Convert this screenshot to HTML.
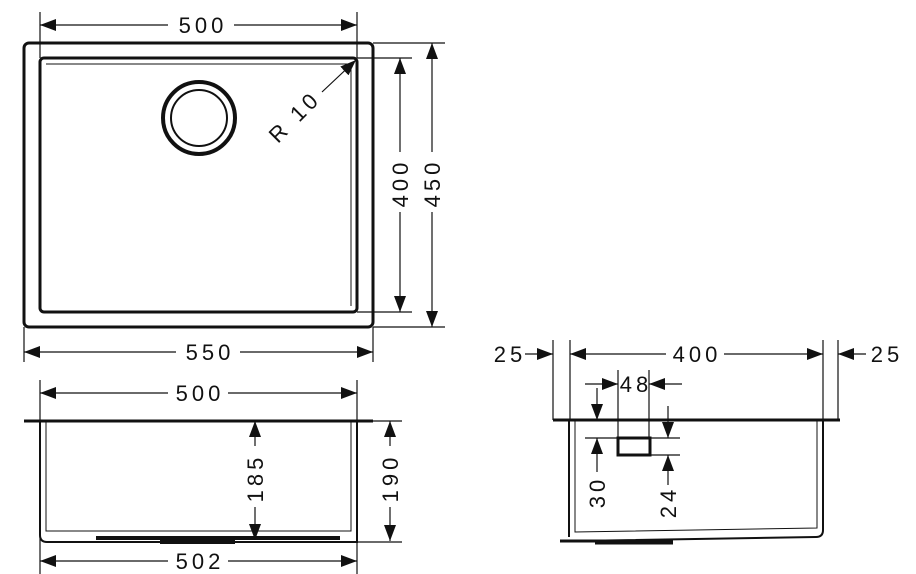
<!DOCTYPE html>
<html><head><style>body{margin:0;background:#fff}svg{display:block}text{font-family:"Liberation Sans",sans-serif;font-size:22px;fill:#111;letter-spacing:4px}</style></head><body>
<svg width="916" height="574" viewBox="0 0 916 574" xmlns="http://www.w3.org/2000/svg">
<defs>
<marker id="a" viewBox="0 0 16 12" refX="16" refY="6" markerWidth="16" markerHeight="12" markerUnits="userSpaceOnUse" orient="auto-start-reverse"><path d="M0,0L16,6L0,12z" fill="#111"/></marker>
</defs>
<g stroke="#111" fill="none">
<rect x="24" y="43" width="349" height="284" rx="5" stroke-width="3"/>
<rect x="40" y="58" width="317" height="254" rx="4" stroke-width="3"/>
<path d="M46 64H351V306" stroke-width="1"/>
<circle cx="199" cy="118" r="36" stroke-width="4"/>
<circle cx="199" cy="118" r="28" stroke-width="2"/>
<g stroke-width="1.2">
<path d="M40 12V58M357 12V58M24 327V362M373 327V362M373 43H445M357 58H412M357 312H412M373 327H445"/>
<line x1="40" y1="25" x2="168" y2="25" marker-start="url(#a)"/><line x1="234" y1="25" x2="357" y2="25" marker-end="url(#a)"/>
<line x1="24" y1="352" x2="176" y2="352" marker-start="url(#a)"/><line x1="240" y1="352" x2="373" y2="352" marker-end="url(#a)"/>
<line x1="400" y1="58" x2="400" y2="152" marker-start="url(#a)"/><line x1="400" y1="212" x2="400" y2="312" marker-end="url(#a)"/>
<line x1="432" y1="43" x2="432" y2="152" marker-start="url(#a)"/><line x1="432" y1="212" x2="432" y2="327" marker-end="url(#a)"/>
<line x1="322" y1="92" x2="356" y2="60" marker-end="url(#a)"/>
</g>
<path d="M24 421H373" stroke-width="3"/>
<path d="M40 421V535Q40 542 47 542H357V421" stroke-width="2"/>
<path d="M46 421V531H351V421" stroke-width="1"/>
<path d="M96 538H300M160 542H235M270 538H340" stroke-width="4"/>
<g stroke-width="1.2">
<path d="M40 380V574M357 380V574M373 421H402M357 542H402"/>
<line x1="40" y1="393" x2="168" y2="393" marker-start="url(#a)"/><line x1="228" y1="393" x2="357" y2="393" marker-end="url(#a)"/>
<line x1="40" y1="561" x2="168" y2="561" marker-start="url(#a)"/><line x1="228" y1="561" x2="357" y2="561" marker-end="url(#a)"/>
<line x1="255" y1="421" x2="255" y2="446" marker-start="url(#a)"/><line x1="255" y1="507" x2="255" y2="540" marker-end="url(#a)"/>
<line x1="390" y1="421" x2="390" y2="446" marker-start="url(#a)"/><line x1="390" y1="507" x2="390" y2="541" marker-end="url(#a)"/>
</g>
<path d="M553 420H840" stroke-width="3"/>
<path d="M569 420V537M823 420V530Q823 537 816 537L574 541" stroke-width="2"/>
<path d="M575 420V532L817 528V420" stroke-width="1"/>
<path d="M560 541H673M595 543H673" stroke-width="3"/>
<rect x="618" y="438" width="32" height="17" stroke-width="3"/>
<g stroke-width="1.2">
<path d="M553 340V420M570 340V420M823 340V420M838 340V420M618 370V438M649 370V438M585 438H680M650 455H680"/>
<line x1="525" y1="354" x2="553" y2="354" marker-end="url(#a)"/>
<line x1="570" y1="354" x2="666" y2="354" marker-start="url(#a)"/><line x1="724" y1="354" x2="823" y2="354" marker-end="url(#a)"/>
<line x1="866" y1="354" x2="838" y2="354" marker-end="url(#a)"/>
<line x1="585" y1="384" x2="618" y2="384" marker-end="url(#a)"/>
<line x1="682" y1="384" x2="649" y2="384" marker-end="url(#a)"/>
<line x1="597" y1="388" x2="597" y2="420" marker-end="url(#a)"/>
<line x1="597" y1="472" x2="597" y2="438" marker-end="url(#a)"/>
<line x1="668" y1="406" x2="668" y2="438" marker-end="url(#a)"/>
<line x1="668" y1="485" x2="668" y2="455" marker-end="url(#a)"/>
</g>
</g>
<g>
<text x="203" y="33" text-anchor="middle">500</text>
<text x="210" y="360" text-anchor="middle">550</text>
<text transform="translate(408 183) rotate(-90)" text-anchor="middle">400</text>
<text transform="translate(440 183) rotate(-90)" text-anchor="middle">450</text>
<text transform="translate(300 122) rotate(-45)" text-anchor="middle">R 10</text>
<text x="200" y="401" text-anchor="middle">500</text>
<text x="200" y="569" text-anchor="middle">502</text>
<text transform="translate(263 478) rotate(-90)" text-anchor="middle">185</text>
<text transform="translate(398 478) rotate(-90)" text-anchor="middle">190</text>
<text x="510" y="362" text-anchor="middle">25</text>
<text x="697" y="362" text-anchor="middle">400</text>
<text x="887" y="362" text-anchor="middle">25</text>
<text x="636" y="392" text-anchor="middle">48</text>
<text transform="translate(605 492) rotate(-90)" text-anchor="middle">30</text>
<text transform="translate(676 502) rotate(-90)" text-anchor="middle">24</text>
</g>
</svg>
</body></html>
